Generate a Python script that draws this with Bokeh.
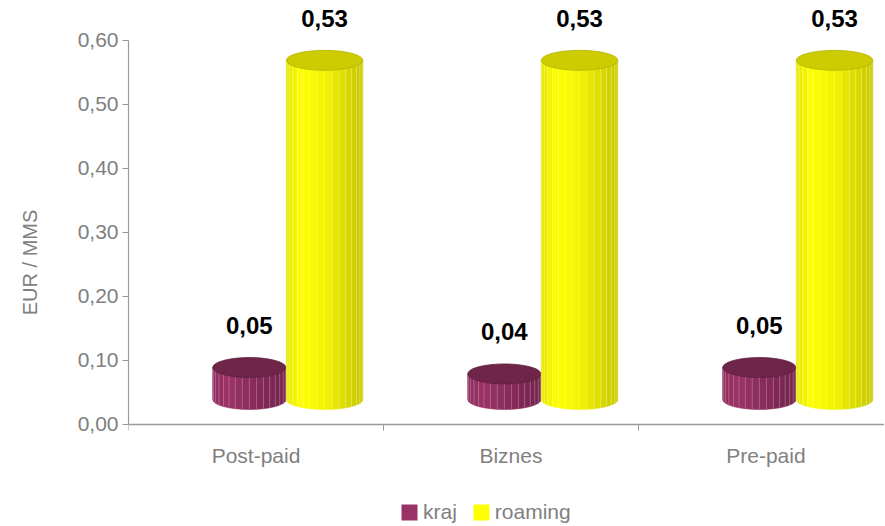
import numpy as np
from bokeh.plotting import figure
from bokeh.models import Range1d, FixedTicker, Legend, LegendItem
from bokeh.core.properties import value
from bokeh.embed import file_html
from bokeh.resources import INLINE

# ---- data ----
categories = ["Post-paid", "Biznes", "Pre-paid"]
series_names = ["kraj", "roaming"]
kraj = [0.05, 0.04, 0.05]
roaming = [0.53, 0.53, 0.53]
y_ticks = [0.0, 0.1, 0.2, 0.3, 0.4, 0.5, 0.6]
y_tick_labels = ["0,00", "0,10", "0,20", "0,30", "0,40", "0,50", "0,60"]
y_axis_label = "EUR / MMS"

FONT = "Liberation Sans"
GRAY = "#808080"

W, H = 884, 524
p = figure(width=W, height=H, output_backend="svg", toolbar_location=None,
           x_range=Range1d(0, 2.965), y_range=Range1d(-0.1563, 0.6625),
           min_border_left=128, min_border_right=0, min_border_top=0,
           min_border_bottom=0)
p.outline_line_color = None
p.xgrid.visible = False
p.ygrid.visible = False
p.background_fill_color = "white"

# ---- axes ----
xa = p.xaxis[0]
xa.fixed_location = 0
xa.ticker = FixedTicker(ticks=[i + 0.5 for i in range(len(categories))],
                        minor_ticks=list(range(len(categories) + 1)))
xa.major_label_overrides = {i + 0.5: c for i, c in enumerate(categories)}
xa.major_tick_out = 0
xa.major_tick_in = 0
xa.minor_tick_out = 6
xa.minor_tick_in = 0
xa.minor_tick_line_color = "#999999"
xa.axis_line_color = "#999999"
xa.axis_line_width = 1.5
xa.major_label_standoff = 14
xa.major_label_text_font = FONT
xa.major_label_text_font_size = "21px"
xa.major_label_text_color = GRAY

ya = p.yaxis[0]
ya.ticker = FixedTicker(ticks=y_ticks)
ya.major_label_overrides = {t: l for t, l in zip(y_ticks, y_tick_labels)}
ya.bounds = (y_ticks[0], y_ticks[-1])
ya.minor_tick_line_color = None
ya.major_tick_out = 6
ya.major_tick_in = 0
ya.major_tick_line_color = "#999999"
ya.axis_line_color = "#999999"
ya.axis_line_width = 1.2
ya.major_label_standoff = 4
ya.major_label_text_font = FONT
ya.major_label_text_font_size = "21px"
ya.major_label_text_color = GRAY
ya.axis_label = y_axis_label
ya.axis_label_text_font = FONT
ya.axis_label_text_font_size = "20px"
ya.axis_label_text_font_style = "normal"
ya.axis_label_text_color = GRAY
ya.axis_label_standoff = 34

# ---- cylinders ----
BASE = 0.039      # 3D floor offset
RY = 0.0156       # ellipse half-height
N = 16


def grad(stops, t):
    for (t0, c0), (t1, c1) in zip(stops[:-1], stops[1:]):
        if t <= t1:
            f = (t - t0) / (t1 - t0) if t1 > t0 else 0
            rgb = [int(round(a + (b - a) * f)) for a, b in zip(c0, c1)]
            return "#%02x%02x%02x" % tuple(rgb)
    return "#%02x%02x%02x" % stops[-1][1]


styles = {
    "kraj": dict(off=0.474, w=0.287,
                 stops=[(0, (140, 45, 92)), (0.2, (156, 52, 104)),
                        (0.55, (136, 44, 90)), (1, (112, 36, 74))],
                 top="#6e2548", top_line="#5e1f3d", sep="#d890b8",
                 swatch="#993366"),
    "roaming": dict(off=0.769, w=0.30,
                    stops=[(0, (228, 228, 0)), (0.2, (255, 255, 0)),
                           (0.5, (243, 243, 0)), (0.8, (216, 216, 0)),
                           (1, (198, 198, 0))],
                    top="#cccc00", top_line="#b5b500", sep="#ffffa8",
                    swatch="#ffff00"),
}

legend_items = []
for name, vals in zip(series_names, [kraj, roaming]):
    st = styles[name]
    rx = st["w"] / 2
    phis = np.linspace(np.pi, 0, N + 1)
    pxs, pys, cols = [], [], []
    sx0, sx1, sy0, sy1 = [], [], [], []
    centers, tops, labels = [], [], []
    for i, v in enumerate(vals):
        c = i + st["off"]
        top = BASE + v
        xe = c + rx * np.cos(phis)
        yb = BASE - RY * np.sin(phis)
        for j in range(N):
            pxs.append([xe[j], xe[j + 1], xe[j + 1], xe[j]])
            pys.append([top, top, yb[j + 1], yb[j]])
            t = ((xe[j] + xe[j + 1]) / 2 - (c - rx)) / (2 * rx)
            cols.append(grad(st["stops"], t))
            if j > 0:
                sx0.append(xe[j]); sx1.append(xe[j])
                sy0.append(yb[j]); sy1.append(top)
        centers.append(c)
        tops.append(top)
        labels.append(f"{v:.2f}".replace(".", ","))
    p.patches(xs=pxs, ys=pys, fill_color=cols, line_color=cols, line_width=0.6)
    p.segment(x0=sx0, y0=sy0, x1=sx1, y1=sy1, line_color=st["sep"],
              line_alpha=0.55, line_width=0.8)
    p.ellipse(x=centers, y=tops, width=st["w"], height=2 * RY,
              fill_color=st["top"], line_color=st["top_line"], line_width=0.8)
    p.text(x=centers, y=[t + 0.066 for t in tops], text=labels,
           text_align="center", text_baseline="middle",
           text_font=value(FONT), text_font_style="bold",
           text_font_size="24px", text_color="black")
    # zero-size quad used only as legend swatch
    sw = p.quad(left=[0], right=[0], top=[0], bottom=[0],
                fill_color=st["swatch"], line_color=None)
    legend_items.append(LegendItem(label=name, renderers=[sw]))

legend = Legend(items=legend_items, orientation="horizontal",
                location=(271, 0), glyph_width=20, glyph_height=20,
                label_height=20,
                label_text_font=FONT, label_text_font_size="21px",
                label_text_color=GRAY, label_standoff=4, spacing=14,
                padding=0, margin=0, border_line_color=None,
                background_fill_alpha=0)
p.add_layout(legend)

open("out.html", "w").write(file_html(p, INLINE))
